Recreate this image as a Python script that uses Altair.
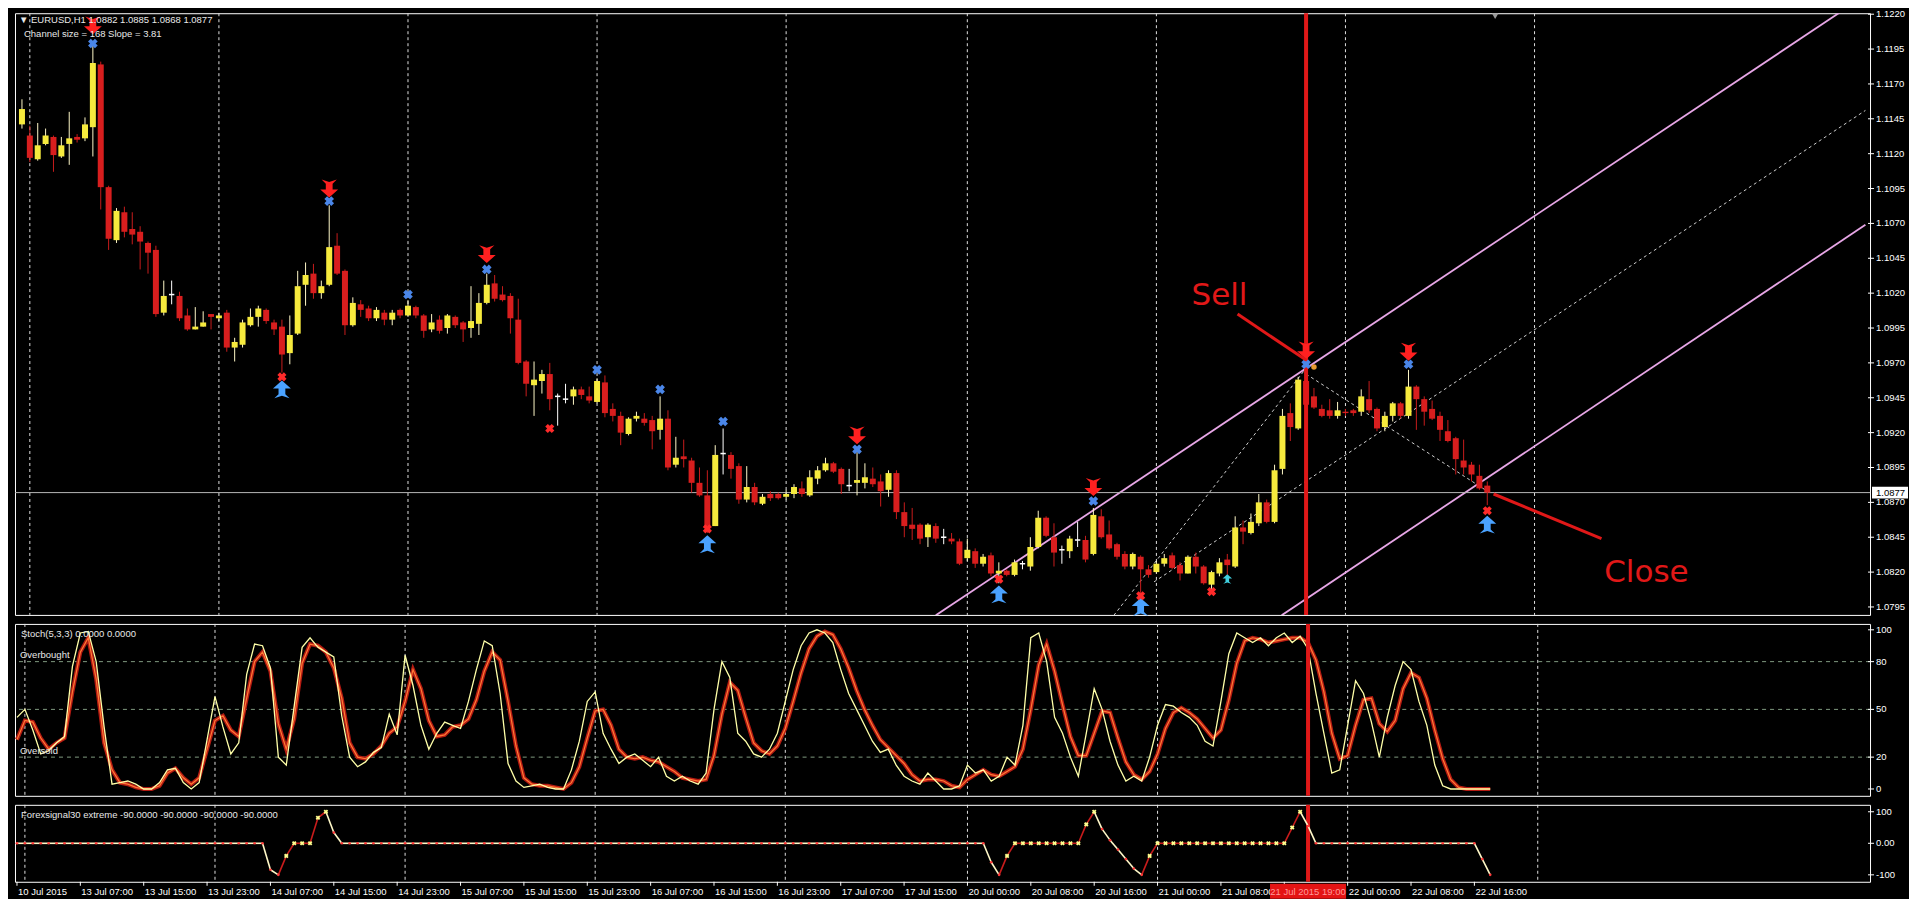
import altair as alt
import pandas as pd
import numpy as np

# ---------------- data ----------------
opens = [1.1141,1.1133,1.1116,1.1127,1.1132,1.1118,1.1127,1.1132,1.1131,1.1139,
         1.1184,1.1096,1.1058,1.1078,1.1066,1.1064,1.1056,1.1051,1.1006,1.1019,
         1.1018,1.1004,1.0994,1.0996,1.1005,1.1002,1.1006,1.0981,1.0983,1.0997,
         1.1003,1.1008,1.0999,1.0996,1.0977,1.0991,1.1026,1.1034,1.1020,1.1026,
         1.1054,1.1036,1.0997,1.1012,1.1009,1.1002,1.1006,1.1001,1.1008,1.1004,
         1.1010,1.1004,1.0994,1.1001,1.0995,1.1003,1.0999,1.0995,1.0998,1.1013,
         1.1027,1.1019,1.1018,1.1001,1.0971,1.0954,1.0957,1.0962,1.0946,1.0944,
         1.0946,1.0951,1.0946,1.0942,1.0956,1.0937,1.0932,1.0919,1.0930,1.0930,
         1.0929,1.0922,1.0930,1.0897,1.0903,1.0900,1.0884,1.0875,1.0853,1.0905,
         1.0904,1.0896,1.0872,1.0881,1.0869,1.0876,1.0876,1.0874,1.0876,1.0880,
         1.0875,1.0887,1.0893,1.0898,1.0894,1.0882,1.0884,1.0884,1.0887,1.0885,
         1.0879,1.0891,1.0863,1.0854,1.0854,1.0845,1.0853,1.0845,1.0844,1.0842,
         1.0830,1.0835,1.0826,1.0832,1.0819,1.0821,1.0818,1.0826,1.0824,1.0838,
         1.0859,1.0845,1.0836,1.0835,1.0843,1.0843,1.0833,1.0860,1.0847,1.0840,
         1.0833,1.0824,1.0831,1.0822,1.0820,1.0826,1.0832,1.0825,1.0819,1.0831,
         1.0824,1.0811,1.0819,1.0829,1.0824,1.0852,1.0848,1.0855,1.0870,1.0856,
         1.0894,1.0934,1.0923,1.0957,1.0946,1.0937,1.0936,1.0932,1.0935,1.0936,
         1.0935,1.0944,1.0937,1.0924,1.0932,1.0941,1.0932,1.0953,1.0944,1.0937,
         1.0932,1.0921,1.0916,1.0900,1.0897,1.0889,1.0882]
highs = [1.1159,1.1140,1.1142,1.1138,1.1133,1.1132,1.1150,1.1134,1.1146,1.1200,
         1.1186,1.1097,1.1081,1.1082,1.1078,1.1068,1.1057,1.1054,1.1029,1.1029,
         1.1021,1.1009,1.1010,1.1007,1.1005,1.1006,1.1008,1.0988,1.1001,1.1009,
         1.1011,1.1009,1.1001,1.1001,1.1004,1.1036,1.1042,1.1041,1.1029,1.1083,
         1.1063,1.1037,1.1017,1.1015,1.1011,1.1010,1.1008,1.1008,1.1009,1.1015,
         1.1011,1.1005,1.1005,1.1004,1.1005,1.1004,1.1000,1.1025,1.1020,1.1034,
         1.1033,1.1025,1.1020,1.1016,1.0972,1.0971,1.0965,1.0970,1.0948,1.0955,
         1.0953,1.0953,1.0953,1.0959,1.0961,1.0941,1.0935,1.0931,1.0935,1.0934,
         1.0932,1.0946,1.0936,1.0917,1.0915,1.0902,1.0895,1.0893,1.0911,1.0923,
         1.0906,1.0898,1.0896,1.0884,1.0876,1.0878,1.0877,1.0879,1.0883,1.0885,
         1.0893,1.0896,1.0902,1.0899,1.0895,1.0894,1.0906,1.0898,1.0895,1.0890,
         1.0893,1.0893,1.0870,1.0866,1.0855,1.0855,1.0855,1.0851,1.0848,1.0844,
         1.0844,1.0837,1.0833,1.0834,1.0827,1.0822,1.0829,1.0828,1.0845,1.0864,
         1.0860,1.0855,1.0839,1.0846,1.0856,1.0846,1.0866,1.0865,1.0857,1.0841,
         1.0835,1.0834,1.0832,1.0825,1.0828,1.0833,1.0834,1.0827,1.0832,1.0834,
         1.0825,1.0821,1.0830,1.0833,1.0860,1.0857,1.0862,1.0876,1.0872,1.0897,
         1.0937,1.0941,1.0960,1.0962,1.0952,1.0940,1.0944,1.0942,1.0937,1.0937,
         1.0951,1.0957,1.0938,1.0935,1.0942,1.0942,1.0965,1.0954,1.0946,1.0943,
         1.0935,1.0929,1.0917,1.0915,1.0899,1.0897,1.0885]
lows = [1.1138,1.1114,1.1115,1.1126,1.1107,1.1117,1.1112,1.1128,1.1129,1.1118,
        1.1080,1.1051,1.1056,1.1060,1.1055,1.1037,1.1034,1.1003,1.1004,1.1012,
        1.1000,1.0993,1.0994,1.0996,1.0994,1.1000,1.0978,1.0971,1.0981,1.0996,
        1.0996,1.0998,1.0990,1.0963,1.0969,1.0990,1.1011,1.1016,1.1016,1.1025,
        1.1033,1.0990,1.0996,1.1003,1.1000,1.1000,1.0997,1.0997,1.1002,1.1003,
        1.1002,1.0988,1.0992,1.0991,1.0991,1.0995,1.0985,1.0988,1.0990,1.1012,
        1.1014,1.1014,1.0991,1.0969,1.0946,1.0932,1.0948,1.0936,1.0925,1.0941,
        1.0940,1.0944,1.0941,1.0941,1.0931,1.0928,1.0911,1.0918,1.0928,1.0925,
        1.0908,1.0915,1.0893,1.0895,1.0895,1.0877,1.0874,1.0848,1.0853,1.0890,
        1.0887,1.0869,1.0870,1.0868,1.0868,1.0871,1.0872,1.0872,1.0873,1.0874,
        1.0874,1.0883,1.0892,1.0891,1.0876,1.0878,1.0875,1.0880,1.0881,1.0867,
        1.0874,1.0858,1.0845,1.0843,1.0840,1.0838,1.0841,1.0840,1.0840,1.0825,
        1.0828,1.0823,1.0824,1.0817,1.0812,1.0817,1.0817,1.0822,1.0821,1.0837,
        1.0845,1.0824,1.0826,1.0830,1.0838,1.0827,1.0832,1.0844,1.0836,1.0829,
        1.0822,1.0822,1.0800,1.0816,1.0819,1.0824,1.0822,1.0814,1.0819,1.0819,
        1.0811,1.0808,1.0817,1.0818,1.0823,1.0840,1.0847,1.0853,1.0855,1.0855,
        1.0890,1.0914,1.0922,1.0938,1.0937,1.0931,1.0930,1.0930,1.0932,1.0932,
        1.0932,1.0934,1.0921,1.0921,1.0928,1.0930,1.0930,1.0922,1.0925,1.0929,
        1.0914,1.0913,1.0890,1.0890,1.0885,1.0879,1.0868]
closes = [1.1152,1.1117,1.1126,1.1133,1.1119,1.1126,1.1131,1.1130,1.1141,1.1185,
          1.1096,1.1059,1.1079,1.1064,1.1062,1.1057,1.1049,1.1005,1.1018,1.1019,
          1.1002,1.0994,1.0996,1.0999,1.1003,1.1004,1.0981,1.0985,1.0999,1.1003,
          1.1009,1.1000,1.0994,1.0976,1.0990,1.1025,1.1033,1.1020,1.1025,1.1053,
          1.1034,1.0997,1.1013,1.1008,1.1002,1.1008,1.1001,1.1006,1.1004,1.1011,
          1.1004,1.0993,1.0999,1.0993,1.1004,1.0997,1.0994,1.1000,1.1013,1.1026,
          1.1016,1.1015,1.1002,1.0970,1.0955,1.0958,1.0962,1.0944,1.0946,1.0944,
          1.0951,1.0947,1.0943,1.0957,1.0934,1.0932,1.0920,1.0930,1.0932,1.0927,
          1.0921,1.0930,1.0895,1.0902,1.0901,1.0884,1.0875,1.0852,1.0904,1.0905,
          1.0894,1.0872,1.0881,1.0870,1.0874,1.0873,1.0873,1.0876,1.0881,1.0876,
          1.0888,1.0893,1.0898,1.0892,1.0883,1.0882,1.0886,1.0888,1.0883,1.0878,
          1.0891,1.0863,1.0853,1.0851,1.0844,1.0854,1.0844,1.0845,1.0842,1.0826,
          1.0836,1.0826,1.0831,1.0819,1.0821,1.0818,1.0827,1.0826,1.0838,1.0859,
          1.0846,1.0834,1.0836,1.0844,1.0843,1.0829,1.0861,1.0845,1.0837,1.0831,
          1.0824,1.0833,1.0822,1.0818,1.0826,1.0830,1.0823,1.0819,1.0831,1.0824,
          1.0812,1.0820,1.0827,1.0825,1.0852,1.0849,1.0856,1.0870,1.0856,1.0893,
          1.0932,1.0924,1.0958,1.0940,1.0938,1.0932,1.0932,1.0936,1.0934,1.0934,
          1.0946,1.0936,1.0923,1.0932,1.0941,1.0932,1.0953,1.0944,1.0935,1.0930,
          1.0922,1.0914,1.0901,1.0895,1.0890,1.0880,1.0877]

stoch_k = [45,50,37,22,24,29,33,77,98,99, 80,39,3,4,5,3,0,0,4,12,
           13,4,0,4,31,58,39,22,29,72, 91,90,76,20,15,52,89,95,89,86,
           83,46,20,14,17,23,26,47,34,84, 65,40,25,35,42,40,38,55,75,93,
           90,60,16,5,1,2,3,1,0,0, 12,30,55,61,35,25,16,20,22,18,
           14,20,8,5,8,5,3,10,50,80, 70,35,30,22,20,25,35,55,75,90,
           98,100,98,92,75,60,50,40,30,23, 25,15,8,5,3,10,5,0,0,2,
           15,10,12,5,8,20,15,40,95,98, 80,45,35,20,8,35,63,50,30,15,
           5,8,5,20,40,53,52,48,45,40, 30,27,55,85,98,95,92,95,90,95,
           98,92,96,88,60,35,10,12,40,68, 60,42,20,45,65,80,75,55,40,15,
           2,0,0,0,0,0,0]
stoch_d = [31,43,42,32,25,29,32,61,86,95, 69,29,12,4,3,1,0,0,2,10,
           13,7,3,7,25,43,46,37,33,57, 80,86,74,41,25,44,79,91,90,86,
           76,57,29,20,19,22,27,35,39,55, 75,63,43,33,34,39,40,44,56,74,
           86,81,55,27,7,3,2,2,1,0, 4,14,32,49,50,40,25,20,19,20,
           18,17,14,11,7,6,5,6,21,47, 67,62,45,29,24,22,27,38,55,73,
           88,96,99,97,88,76,62,50,40,31, 26,21,16,9,5,6,6,5,2,1,
           6,9,12,9,8,11,14,25,50,78, 91,74,53,33,21,21,35,49,48,32,
           17,9,6,11,22,38,48,51,48,44, 38,32,37,56,79,93,95,94,92,93,
           94,95,95,92,81,61,35,19,21,40, 56,57,41,36,43,63,73,70,57,37,
           19,6,1,0,0,0,0]

# Forexsignal30 extreme: values that are not 0, by bar number
fs_nonzero = {32: -84, 33: -100, 34: -40, 38: 81, 39: 100, 40: 34,
              123: -60, 124: -100, 125: -40, 135: 60, 136: 100, 137: 45, 138: 10,
              139: -20, 140: -50, 141: -80, 142: -100, 143: -40, 161: 50, 162: 100,
              163: 55, 185: -50, 186: -100}
fs_yellow_runs = [(34, 39), (125, 136), (143, 162)]

xlabels = ["10 Jul 2015", "13 Jul 07:00", "13 Jul 15:00", "13 Jul 23:00", "14 Jul 07:00",
           "14 Jul 15:00", "14 Jul 23:00", "15 Jul 07:00", "15 Jul 15:00", "15 Jul 23:00",
           "16 Jul 07:00", "16 Jul 15:00", "16 Jul 23:00", "17 Jul 07:00", "17 Jul 15:00",
           "20 Jul 00:00", "20 Jul 08:00", "20 Jul 16:00", "21 Jul 00:00", "21 Jul 08:00",
           "", "22 Jul 00:00", "22 Jul 08:00", "22 Jul 16:00"]
xtick_bars = [8 * k for k in range(len(xlabels))]
day_grid = [1, 25, 49, 73, 97, 120, 144, 168, 192]

price_ticks = [1.0795, 1.0820, 1.0845, 1.0870, 1.0895, 1.0920, 1.0945, 1.0970, 1.0995,
               1.1020, 1.1045, 1.1070, 1.1095, 1.1120, 1.1145, 1.1170, 1.1195, 1.1220]
stoch_ticks = [0, 20, 50, 80, 100]
stoch_tick_labels = ["0", "20", "50", "80", "100"]
fs_ticks = [-100, 0, 100]
fs_tick_labels = ["-100", "0.00", "100"]

sell_idx = [9, 39, 59, 106, 136, 163, 176]
sell_arrow_y = [1.1212, 1.1095, 1.1048, 1.0918, 1.0881, 1.0979, 1.0978]
sell_x_y = [1.1199, 1.1086, 1.1037, 1.0908, 1.0871, 1.0969, 1.0969]
bluex_idx = [49, 73, 81, 89]
bluex_y = [1.1019, 1.0965, 1.0951, 1.0928]
buy_idx = [33, 87, 124, 142, 186]
buy_arrow_y = [1.0951, 1.0840, 1.0804, 1.0795, 1.0854]
buy_x_y = [1.0960, 1.0851, 1.0815, 1.0803, 1.0864]
redx_idx = [67, 151]
redx_y = [1.0923, 1.0806]

channel_upper = {"i": [116.0, 232.0], "p": [1.0789, 1.1226]}
channel_lower = {"i": [159.9, 234.0], "p": [1.0789, 1.1069]}
channel_mid = {"i": [143.7, 234.0], "p": [1.0813, 1.1151]}
steep_line = {"i": [138.6, 162.7], "p": [1.0789, 1.0964]}
down_line = {"i": [163.0, 186.0], "p": [1.0962, 1.0878]}
sell_ptr = {"i": [154.3], "p": [1.1005], "i2": [163.0], "p2": [1.0972]}
close_ptr = {"i": [200.5], "p": [1.0844], "i2": [186.8], "p2": [1.0876]}
note_text = ["Sell", "Close"]
note_i = [152.0, 206.2]
note_p = [1.1018, 1.0819]
last_price = 1.0877
signal_bar = 163

# ---------------- layout ----------------
W = 1856
H1, H2, H3 = 602, 172, 77
XD = [-0.25, 233.95]
FONT = "Liberation Sans, Arial, sans-serif"
FS = 9.5
RED = "#e01818"

xs = alt.Scale(domain=XD, nice=False, zero=False)
ys1 = alt.Scale(domain=[1.07893, 1.12207], nice=False, zero=False)
ys2 = alt.Scale(domain=[-4.3, 103.7], nice=False, zero=False)
ys3 = alt.Scale(domain=[-122, 122], nice=False, zero=False)


def X(f="i"):
    return alt.X(f"{f}:Q", scale=xs, axis=None, title=None)


def Yq(f, sc):
    return alt.Y(f"{f}:Q", scale=sc, axis=None, title=None)


def txt(text, x, y, **kw):
    base = dict(color="#e8e8e8", font=FONT, fontSize=FS, align="left", baseline="middle")
    base.update(kw)
    return alt.Chart(pd.DataFrame({"t": [text]})).mark_text(**base).encode(
        x=alt.value(x), y=alt.value(y), text="t:N")


def right_axis(vals, labels, sc):
    d = pd.DataFrame({"v": vals, "t": labels})
    ticks = alt.Chart(d).mark_rule(color="white", strokeWidth=1).encode(
        x=alt.value(W - 2), x2=alt.value(W + 4), y=Yq("v", sc))
    labs = alt.Chart(d).mark_text(color="white", font=FONT, fontSize=FS, align="left",
                                  baseline="middle").encode(x=alt.value(W + 6), y=Yq("v", sc), text="t:N")
    return ticks + labs


n = len(opens)
df = pd.DataFrame({"i": range(n), "o": opens, "h": highs, "l": lows, "c": closes})
df["dir"] = np.select([df.c > df.o, df.c < df.o], ["up", "down"], "doji")
df["bt"] = df[["o", "c"]].max(axis=1)
df["bb"] = df[["o", "c"]].min(axis=1)
df["xl"] = df.i - 0.34
df["xr"] = df.i + 0.34

grid_df = pd.DataFrame({"i": day_grid})
grid = alt.Chart(grid_df).mark_rule(color="#e0e0e0", strokeDash=[3, 3], strokeWidth=1).encode(x=X())
redline = alt.Chart(pd.DataFrame({"i": [signal_bar]})).mark_rule(color=RED, strokeWidth=4).encode(x=X())

wicks = alt.Chart(df).mark_rule(strokeWidth=1).encode(
    x=X(), y=Yq("l", ys1), y2="h:Q",
    stroke=alt.Stroke("dir:N", scale=alt.Scale(domain=["up", "down", "doji"],
                                                range=["#fff8c8", "#c81c1c", "#ffffff"]), legend=None))
bodies = alt.Chart(df).transform_filter("datum.dir != 'doji'").mark_bar(size=6).encode(
    x=X(), y=Yq("bb", ys1), y2="bt:Q",
    fill=alt.Fill("dir:N", scale=alt.Scale(domain=["up", "down"], range=["#f6ea3d", "#d81e1e"]), legend=None))
dojis = alt.Chart(df).transform_filter("datum.dir == 'doji'").mark_rule(color="white", strokeWidth=1.5).encode(
    x=X("xl"), x2="xr:Q", y=Yq("o", ys1))


def line_layer(d, color, dash=None, width=1.6):
    kw = dict(color=color, strokeWidth=width, clip=True)
    if dash:
        kw["strokeDash"] = dash
    return alt.Chart(pd.DataFrame(d)).mark_line(**kw).encode(x=X(), y=Yq("p", ys1))


ch_up = line_layer(channel_upper, "#e7a6e6", width=1.8)
ch_lo = line_layer(channel_lower, "#e7a6e6", width=1.8)
ch_mid = line_layer(channel_mid, "#cfcfcf", dash=[3, 3], width=1)
steep = line_layer(steep_line, "#cfcfcf", dash=[3, 3], width=1)
down = line_layer(down_line, "#cfcfcf", dash=[3, 3], width=1)

lastline = alt.Chart(pd.DataFrame({"p": [last_price]})).mark_rule(color="#b8b8b8", strokeWidth=1).encode(
    y=Yq("p", ys1))

DOWN_ARROW = "M0,1L-1,0.1L-0.38,0.1L-0.38,-0.55L-0.85,-1L0,-0.72L0.85,-1L0.38,-0.55L0.38,0.1L1,0.1Z"
UP_ARROW = "M0,-1L-1,-0.1L-0.38,-0.1L-0.38,0.55L-0.85,1L0,0.72L0.85,1L0.38,0.55L0.38,-0.1L1,-0.1Z"


def pts(idx, ys, **mk):
    return alt.Chart(pd.DataFrame({"i": idx, "p": ys})).mark_point(filled=True, opacity=1, **mk).encode(
        x=X(), y=Yq("p", ys1))


sell_arrows = pts(sell_idx, sell_arrow_y, shape=DOWN_ARROW, color="#ff2020", size=320)
sell_x = pts(sell_idx, sell_x_y, shape="cross", angle=45, color="#4a86e8", size=95)
blue_x = pts(bluex_idx, bluex_y, shape="cross", angle=45, color="#4a86e8", size=95)
buy_arrows = pts(buy_idx, buy_arrow_y, shape=UP_ARROW, color="#4aa2ff", size=320)
buy_x = pts(buy_idx, buy_x_y, shape="cross", angle=45, color="#ff2a2a", size=85)
red_x = pts(redx_idx, redx_y, shape="cross", angle=45, color="#ff2a2a", size=85)
cyan_arrow = pts([153], [1.0815], shape=UP_ARROW, color="#40d0e0", size=90)
orange_mk = pts([164], [1.0967], shape="circle", color="#e89a30", size=30)

ptr_df = pd.DataFrame({k: sell_ptr[k] + close_ptr[k] for k in sell_ptr})
pointers = alt.Chart(ptr_df).mark_rule(color=RED, strokeWidth=3).encode(
    x=X(), y=Yq("p", ys1), x2="i2:Q", y2="p2:Q")
notes = alt.Chart(pd.DataFrame({"i": note_i, "p": note_p, "t": note_text})).mark_text(
    color=RED, font="DejaVu Sans", fontSize=31, align="center", baseline="middle").encode(
    x=X(), y=Yq("p", ys1), text="t:N")

hdr1 = txt("\u25bc EURUSD,H1  1.0882 1.0885 1.0868 1.0877", 4, 7)
hdr2 = txt("Channel size = 168 Slope = 3.81", 9, 21)
shift_mk = alt.Chart(pd.DataFrame({"i": [187]})).mark_point(
    shape="triangle-down", filled=True, color="#9a9a9a", size=40, opacity=1).encode(x=X(), y=alt.value(3))

pbox = alt.Chart(pd.DataFrame({"a": [last_price + 0.00042], "b": [last_price - 0.00042]})).mark_rect(
    color="white").encode(x=alt.value(W + 2), x2=alt.value(W + 38), y=Yq("a", ys1), y2="b:Q")
ptext = alt.Chart(pd.DataFrame({"p": [last_price], "t": ["1.0877"]})).mark_text(
    color="black", font=FONT, fontSize=FS, align="left", baseline="middle").encode(
    x=alt.value(W + 6), y=Yq("p", ys1), text="t:N")

main = alt.layer(grid, ch_up, ch_lo, ch_mid, steep, down, lastline, wicks, bodies, dojis, redline,
                 sell_arrows, sell_x, blue_x, buy_arrows, buy_x, red_x, cyan_arrow, orange_mk,
                 pointers, notes, hdr1, hdr2, shift_mk,
                 right_axis(price_ticks, [f"{v:.4f}" for v in price_ticks], ys1),
                 pbox, ptext).properties(width=W, height=H1)

# ---------------- stochastic ----------------
sdf = pd.DataFrame({"i": range(n), "k": stoch_k, "d": stoch_d})
levels = alt.Chart(pd.DataFrame({"v": [20, 50, 80]})).mark_rule(
    color="#7f9a7f", strokeDash=[4, 4], strokeWidth=1).encode(y=Yq("v", ys2))
dline = alt.Chart(sdf).mark_line(color="#b41a12", strokeWidth=4).encode(x=X(), y=Yq("d", ys2))
dline2 = alt.Chart(sdf).mark_line(color="#ff7a35", strokeWidth=1.2).encode(x=X(), y=Yq("d", ys2))
kline = alt.Chart(sdf).mark_line(color="#ffffa8", strokeWidth=1.3).encode(x=X(), y=Yq("k", ys2))
lvl_txt = alt.Chart(pd.DataFrame({"t": ["Overbought", "Oversold"], "v": [84.0, 24.0]})).mark_text(
    color="#e8e8e8", font=FONT, fontSize=FS, align="left", baseline="middle").encode(
    x=alt.value(5), y=Yq("v", ys2), text="t:N")
stoch = alt.layer(grid, levels, dline, dline2, kline, redline, lvl_txt,
                  txt("Stoch(5,3,3) 0.0000 0.0000", 6, 10),
                  right_axis(stoch_ticks, stoch_tick_labels, ys2)).properties(width=W, height=H2)

# ---------------- Forexsignal30 extreme ----------------
fvals = [fs_nonzero.get(i, 0) for i in range(n)]
state = ["r"] * n
for a, b in fs_yellow_runs:
    for i in range(a, b + 1):
        state[i] = "y"
fdf = pd.DataFrame({"i": range(n), "v": fvals, "s": state})
seg = fdf.copy()
seg["i0"] = seg.i - 1
seg["v0"] = seg.v.shift(1)
seg = seg.iloc[1:]
fseg = alt.Chart(seg).mark_rule(strokeWidth=1.6).encode(
    x=X("i0"), x2="i:Q", y=Yq("v0", ys3), y2="v:Q",
    stroke=alt.Stroke("s:N", scale=alt.Scale(domain=["r", "y"], range=["#d02020", "#fff7a0"]), legend=None))
fred = alt.Chart(fdf).transform_filter("datum.s == 'r'").mark_point(
    shape="circle", filled=True, size=7, color="#ff3a3a", opacity=1).encode(x=X(), y=Yq("v", ys3))
fyel = alt.Chart(fdf).transform_filter("datum.s == 'y'").mark_point(
    shape="cross", angle=45, filled=True, size=22, color="#ffff90", opacity=1).encode(x=X(), y=Yq("v", ys3))

xt = pd.DataFrame({"i": xtick_bars, "t": xlabels})
xticks = alt.Chart(xt).mark_rule(color="white", strokeWidth=1).encode(
    x=X(), y=alt.value(H3), y2=alt.value(H3 + 4))
xlabs = alt.Chart(xt).mark_text(color="white", font=FONT, fontSize=FS, align="left", baseline="middle",
                                dx=1).encode(x=X(), y=alt.value(H3 + 10), text="t:N")
tbox = alt.Chart(pd.DataFrame({"a": [158.2], "b": [167.8]})).mark_rect(color="#e41414").encode(
    x=X("a"), x2="b:Q", y=alt.value(H3 + 2), y2=alt.value(H3 + 17))
ttxt = alt.Chart(pd.DataFrame({"i": [163.0], "t": ["21 Jul 2015 19:00"]})).mark_text(
    color="#ff9a9a", font=FONT, fontSize=FS, align="center", baseline="middle").encode(
    x=X(), y=alt.value(H3 + 10), text="t:N")
fpanel = alt.layer(grid, redline, fseg, fred, fyel,
                   txt("Forexsignal30 extreme -90.0000 -90.0000 -90.0000 -90.0000", 6, 10),
                   right_axis(fs_ticks, fs_tick_labels, ys3),
                   xticks, xlabs, tbox, ttxt).properties(width=W, height=H3)

chart = alt.vconcat(main, stoch, fpanel, spacing=3).properties(
    background="black", padding={"left": 0, "top": 0, "right": 0, "bottom": 0}
).configure_view(stroke="white", strokeWidth=1).configure_concat(spacing=3)

chart.save("out.html", embed_options={"renderer": "svg", "actions": False})
